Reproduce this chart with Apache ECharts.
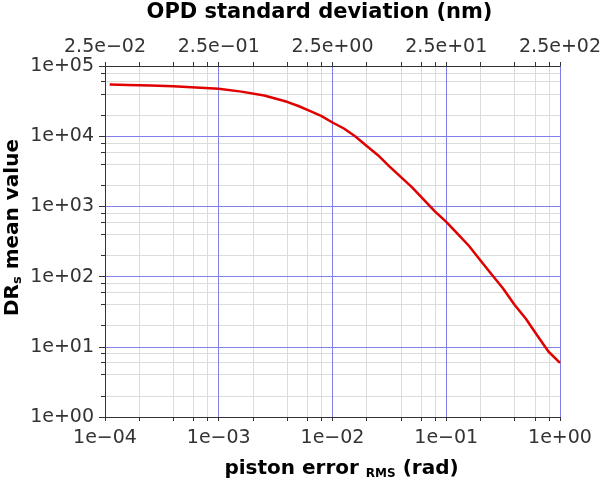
<!DOCTYPE html>
<html>
<head>
<meta charset="utf-8">
<script src="https://cdn.jsdelivr.net/npm/echarts@6/dist/echarts.min.js"></script>
<style>html,body{margin:0;padding:0;background:#fff;}#c{width:600px;height:485px;}</style>
</head>
<body>
<div id="c"></div>
<script>
// piston error RMS (rad)
const pistonErr = [1.1e-4, 1.58e-4, 2.51e-4, 3.98e-4, 6.31e-4, 1e-3, 1.58e-3, 2.51e-3, 3.98e-3, 5.01e-3, 6.31e-3, 7.94e-3, 1e-2, 1.26e-2, 1.58e-2, 2e-2, 2.51e-2, 3.16e-2, 3.98e-2, 5.01e-2, 6.31e-2, 7.94e-2, 0.1, 0.126, 0.158, 0.2, 0.251, 0.316, 0.398, 0.501, 0.631, 0.794, 1.0];
// DRs mean value
const drMean = [54450, 53700, 52720, 51290, 49550, 47320, 43150, 38020, 30900, 26920, 22910, 19500, 15670, 12880, 10000, 7244, 5370, 3715, 2630, 1862, 1259, 851, 603, 407, 275, 170, 107, 67.6, 39.8, 25.1, 14.5, 8.5, 5.9];
const bottomTickLabels = ['1e\u221204', '1e\u221203', '1e\u221202', '1e\u221201', '1e+00'];
const topTickLabels = ['2.5e\u221202', '2.5e\u221201', '2.5e+00', '2.5e+01', '2.5e+02'];
const yTickLabels = ['1e+00', '1e+01', '1e+02', '1e+03', '1e+04', '1e+05'];
const xMinorTicks = [2e-4, 4e-4, 6e-4, 8e-4, 2e-3, 4e-3, 6e-3, 8e-3, 2e-2, 4e-2, 6e-2, 8e-2, 0.2, 0.4, 0.6, 0.8];
const yMinorTicks = [2, 4, 6, 8, 20, 40, 60, 80, 200, 400, 600, 800, 2000, 4000, 6000, 8000, 20000, 40000, 60000, 80000];

const chart = echarts.init(document.getElementById('c'));
const FONT = 'DejaVu Sans';
const exp10 = v => Math.round(Math.log10(v));
const minorGrid = { show: true, lineStyle: { color: '#dcdcdc', width: 1 } };
const majorGrid = { show: true, lineStyle: { color: '#8080e6', width: 1 } };
const axisLine = { show: true, lineStyle: { color: '#333', width: 1 } };
const tickStyle = { color: '#333', width: 1 };

function minorAxis(pos, values, grid) {
  return {
    type: 'log', min: pos === 'left' ? 1 : 1e-4, max: pos === 'left' ? 1e5 : 1,
    position: pos, gridIndex: 0, z: 1,
    axisLine: { show: false },
    axisTick: { show: true, inside: false, length: 4, customValues: values, lineStyle: tickStyle },
    axisLabel: { show: false },
    splitLine: grid ? Object.assign({ customValues: values }, minorGrid) : { show: false },
    minorTick: { show: false },
    minorSplitLine: { show: false }
  };
}

chart.setOption({
  animation: false,
  grid: { left: 105, right: 40, top: 66, bottom: 68, containLabel: false, outerBoundsMode: 'none' },
  xAxis: [{
    type: 'log', min: 1e-4, max: 1, position: 'bottom', z: 2,
    name: '{b|piston error }{s|RMS}{b| (rad)}',
    nameLocation: 'middle', nameGap: 40,
    nameTextStyle: { padding: [0, 0, 0, 18], rich: {
      b: { fontFamily: FONT, fontWeight: 'bold', fontSize: 20, color: '#000', lineHeight: 23 },
      s: { fontFamily: FONT, fontWeight: 'bold', fontSize: 12, color: '#000', lineHeight: 10, verticalAlign: 'bottom' }
    } },
    axisLine: axisLine,
    axisTick: { show: true, inside: false, length: 4, lineStyle: tickStyle },
    splitLine: majorGrid,
    axisLabel: { margin: 12, fontFamily: FONT, fontSize: 19, color: '#333',
      formatter: v => bottomTickLabels[exp10(v) + 4] }
  }, {
    type: 'log', min: 1e-4, max: 1, position: 'top', z: 2,
    name: 'OPD standard deviation (nm)',
    nameLocation: 'middle', nameGap: 43,
    nameTextStyle: { fontFamily: FONT, fontWeight: 'bold', fontSize: 21, color: '#000', padding: [0, 26, 0, 0] },
    axisLine: axisLine,
    axisTick: { show: true, inside: false, length: 4, lineStyle: tickStyle },
    splitLine: { show: false },
    axisLabel: { margin: 9, fontFamily: FONT, fontSize: 19, color: '#333',
      formatter: v => topTickLabels[exp10(v) + 4] }
  },
  minorAxis('bottom', xMinorTicks, true),
  minorAxis('top', xMinorTicks, false)
  ],
  yAxis: [{
    type: 'log', min: 1, max: 1e5, position: 'left', z: 2,
    name: '{b|DR}{s|s}{b| mean value}',
    nameLocation: 'middle', nameGap: 81, nameRotate: 90, nameMoveOverlap: false,
    nameTextStyle: { padding: [0, 0, 0, 28], rich: {
      b: { fontFamily: FONT, fontWeight: 'bold', fontSize: 20, color: '#000', lineHeight: 23 },
      s: { fontFamily: FONT, fontWeight: 'bold', fontSize: 13, color: '#000', lineHeight: 10, verticalAlign: 'bottom' }
    } },
    axisLine: axisLine,
    axisTick: { show: true, inside: false, length: 6, lineStyle: tickStyle },
    splitLine: majorGrid,
    axisLabel: { margin: 11, fontFamily: FONT, fontSize: 19, color: '#333',
      formatter: v => yTickLabels[exp10(v)] }
  },
  minorAxis('left', yMinorTicks, true)
  ],
  series: [{
    type: 'line', xAxisIndex: 0, yAxisIndex: 0,
    data: pistonErr.map((x, i) => [x, drMean[i]]),
    showSymbol: false, symbol: 'none',
    lineStyle: { color: '#e00000', width: 2.5 },
    z: 5
  }]
});
</script>
</body>
</html>
